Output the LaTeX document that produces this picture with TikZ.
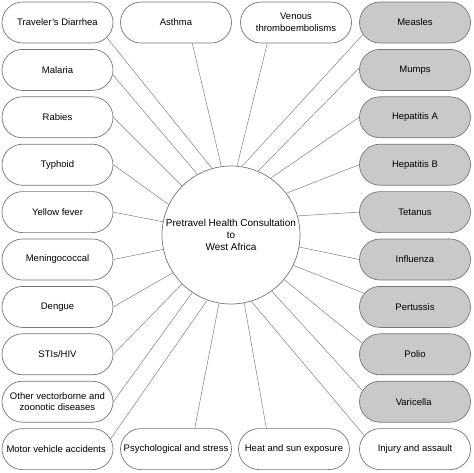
\documentclass[tikz,border=0pt]{standalone}
\usepackage{fontspec}
\setmainfont{Liberation Sans}
\definecolor{vaxgray}{RGB}{201,201,201}
\definecolor{rimgray}{RGB}{118,118,118}
\definecolor{spokegray}{RGB}{128,128,128}
\usetikzlibrary{shapes.misc,positioning}

\begin{document}
\begin{tikzpicture}[x=1pt, y=-1pt, every node/.style={font=\fontsize{9.5}{11.5}\selectfont, align=center}]
    \tikzset{
        topic/.style={rounded rectangle, draw=rimgray, line width=0.7pt, fill=white,
            minimum width=111pt, minimum height=41pt, inner sep=0pt,
            label={[inner sep=0pt]center:#1}},
        vaccine/.style={topic=#1, fill=vaxgray},
        spoke/.style={spokegray, line width=0.5pt}
    }
    \useasboundingbox (0,0) rectangle (474,472);

    % hub
    \node[circle, draw=rimgray, line width=0.7pt, minimum size=138pt, inner sep=0pt,
        font=\fontsize{10}{12}\selectfont] (hub) at (231,235)
        {Pretravel Health Consultation\\to\\West Africa};

    % left column
    \foreach \name/\row/\txt in {
        travel/0/Traveler's Diarrhea,
        malaria/1/Malaria,
        rabies/2/Rabies,
        typhoid/3/Typhoid,
        yellow/4/Yellow fever,
        mening/5/Meningococcal,
        dengue/6/Dengue,
        sti/7/{STIs/HIV},
        vector/8/Other vectorborne and\\zoonotic diseases,
        motor/9/Motor vehicle accidents
    } {
        \node[topic={\txt}] (\name) at (57.5, 22.5+47.4*\row) {};
    }

    % right column (vaccines)
    \foreach \name/\row/\txt in {
        measles/0/Measles,
        mumps/1/Mumps,
        hepA/2/Hepatitis A,
        hepB/3/Hepatitis B,
        tetanus/4/Tetanus,
        flu/5/Influenza,
        pertussis/6/Pertussis,
        polio/7/Polio,
        varicella/8/Varicella
    } {
        \node[vaccine={\txt}] (\name) at (415, 22.5+47.4*\row) {};
    }
    \node[topic={Injury and assault}] (injury) at (415,449.1) {};

    % top and bottom rows
    \node[topic={Asthma}] (asthma) at (176,22.5) {};
    \node[topic={Venous\\thromboembolisms}] (venous) at (296,22.5) {};
    \node[topic={Psychological and stress}] (psych) at (176,449.1) {};
    \node[topic={Heat and sun exposure}] (heat) at (294,449.1) {};

    % spokes: box/box angle/hub angle
    \foreach \b/\a/\h in {
        travel/-17/106, malaria/-5/119, rabies/0/135, typhoid/0/154,
        yellow/0/169, mening/0/192, dengue/0/213, sti/0/225,
        vector/0/236, motor/11/250, psych/48/260, heat/143/281,
        injury/165/287, varicella/168/306, polio/168/320, pertussis/165/334,
        flu/180/350, tetanus/180/16, hepB/180/37, hepA/180/55,
        mumps/178/67, measles/193/81, venous/216/85, asthma/-52/98
    } {
        \draw[spoke] (\b.\a) -- (hub.\h);
    }
\end{tikzpicture}
\end{document}
